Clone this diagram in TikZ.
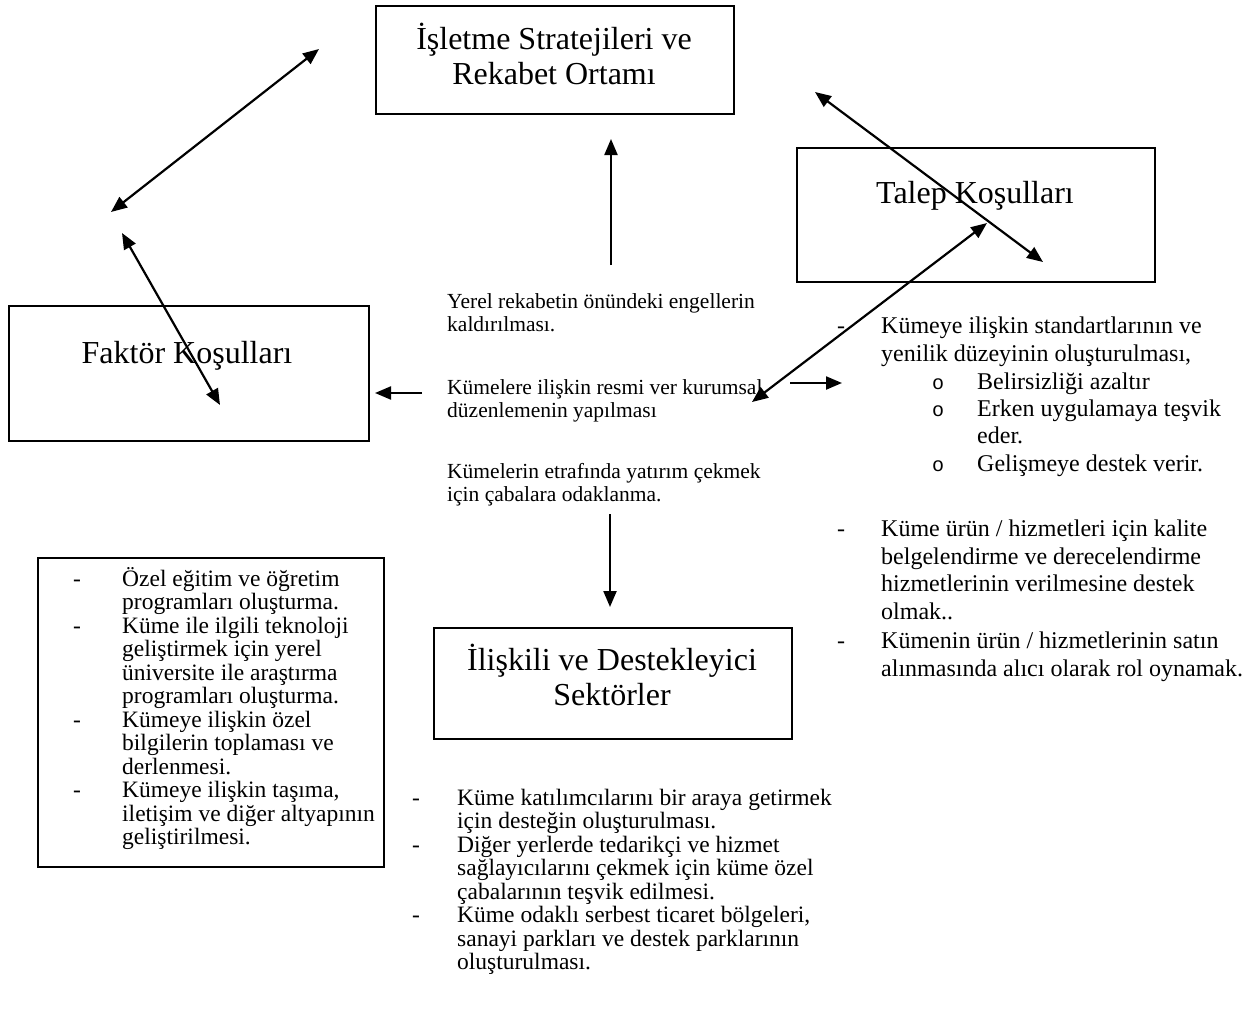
\documentclass[tikz,border=0pt]{standalone}
\usepackage{fontspec}
\setmainfont{Liberation Serif}
\newfontfamily\bulfont{Liberation Mono}
\usetikzlibrary{arrows.meta}
\begin{document}
\begin{tikzpicture}[x=1pt,y=-1pt,
  box/.style={draw, line width=1.5pt, inner sep=0pt, anchor=north west},
  title/.style={font=\fontsize{32}{35}\selectfont, inner sep=0pt, anchor=base},
  midtxt/.style={font=\fontsize{21.5}{23}\selectfont, inner sep=0pt, anchor=base west},
  rtxt/.style={font=\fontsize{24}{27}\selectfont, inner sep=0pt, anchor=base west},
  btxt/.style={font=\fontsize{23.5}{25}\selectfont, inner sep=0pt, anchor=base west},
  ltxt/.style={font=\fontsize{23.5}{25}\selectfont, inner sep=0pt, anchor=base west},
  obul/.style={font=\bulfont\fontsize{20}{22}\selectfont, inner sep=0pt, anchor=base west},
  arr/.style={line width=2.2pt, -{Triangle[length=16pt,width=13pt]}},
  darr/.style={line width=2.2pt, {Triangle[length=16pt,width=13pt]}-{Triangle[length=16pt,width=13pt]}},
]
\useasboundingbox (0,0) rectangle (1259,1010);

% ---- title boxes ----
\node[box, minimum width=358pt, minimum height=108pt] (bIS) at (375,5) {};
\node[title] (tIS1) at (554,49) {İşletme Stratejileri ve};
\node[title] (tIS2) at (554,84) {Rekabet Ortamı};

\node[box, minimum width=358pt, minimum height=134pt] (bTK) at (796,147) {};
\node[title] (tTK) at (975,203) {Talep Koşulları};

\node[box, minimum width=360pt, minimum height=135pt] (bFK) at (8,305) {};
\node[title] (tFK) at (187,363) {Faktör Koşulları};

\node[box, minimum width=358pt, minimum height=111pt] (bID) at (433,627) {};
\node[title] (tID1) at (612,670) {İlişkili ve Destekleyici};
\node[title] (tID2) at (612,705) {Sektörler};

% ---- middle text ----
\node[midtxt] (m1) at (447,308) {Yerel rekabetin önündeki engellerin};
\node[midtxt] (m2) at (447,331) {kaldırılması.};
\node[midtxt] (m3) at (447,394) {Kümelere ilişkin resmi ver kurumsal};
\node[midtxt] (m4) at (447,417) {düzenlemenin yapılması};
\node[midtxt] (m5) at (447,478) {Kümelerin etrafında yatırım çekmek};
\node[midtxt] (m6) at (447,501) {için çabalara odaklanma.};

% ---- right list ----
\node[rtxt] (rd1) at (837,333) {-};
\node[rtxt] (r1) at (881,333) {Kümeye ilişkin standartlarının ve};
\node[rtxt] (r2) at (881,361) {yenilik düzeyinin oluşturulması,};
\node[obul] (ro1) at (932,389) {o};
\node[rtxt] (r3) at (977,389) {Belirsizliği azaltır};
\node[obul] (ro2) at (932,416) {o};
\node[rtxt] (r4) at (977,416) {Erken uygulamaya teşvik};
\node[rtxt] (r5) at (977,443) {eder.};
\node[obul] (ro3) at (932,471) {o};
\node[rtxt] (r6) at (977,471) {Gelişmeye destek verir.};
\node[rtxt] (rd2) at (837,536) {-};
\node[rtxt] (r7) at (881,536) {Küme ürün / hizmetleri için kalite};
\node[rtxt] (r8) at (881,564) {belgelendirme ve derecelendirme};
\node[rtxt] (r9) at (881,591) {hizmetlerinin verilmesine destek};
\node[rtxt] (r10) at (881,619) {olmak..};
\node[rtxt] (rd3) at (837,648) {-};
\node[rtxt] (r11) at (881,648) {Kümenin ürün / hizmetlerinin satın};
\node[rtxt] (r12) at (881,676) {alınmasında alıcı olarak rol oynamak.};

% ---- left box list ----
\node[box, minimum width=346pt, minimum height=309pt] (bL) at (37,557) {};
\node[ltxt] (ld1) at (73,586) {-};
\node[ltxt] (l1) at (122,586) {Özel eğitim ve öğretim};
\node[ltxt] (l2) at (122,609.5) {programları oluşturma.};
\node[ltxt] (ld2) at (73,633) {-};
\node[ltxt] (l3) at (122,633) {Küme ile ilgili teknoloji};
\node[ltxt] (l4) at (122,656.5) {geliştirmek için yerel};
\node[ltxt] (l5) at (122,680) {üniversite ile araştırma};
\node[ltxt] (l6) at (122,703.5) {programları oluşturma.};
\node[ltxt] (ld3) at (73,727) {-};
\node[ltxt] (l7) at (122,727) {Kümeye ilişkin özel};
\node[ltxt] (l8) at (122,750.5) {bilgilerin toplaması ve};
\node[ltxt] (l9) at (122,774) {derlenmesi.};
\node[ltxt] (ld4) at (73,797.5) {-};
\node[ltxt] (l10) at (122,797.5) {Kümeye ilişkin taşıma,};
\node[ltxt] (l11) at (122,821) {iletişim ve diğer altyapının};
\node[ltxt] (l12) at (122,844.5) {geliştirilmesi.};

% ---- bottom list ----
\node[btxt] (bd1) at (412,805) {-};
\node[btxt] (bt1) at (457,805) {Küme katılımcılarını bir araya getirmek};
\node[btxt] (bt2) at (457,828.5) {için desteğin oluşturulması.};
\node[btxt] (bd2) at (412,852) {-};
\node[btxt] (bt3) at (457,852) {Diğer yerlerde tedarikçi ve hizmet};
\node[btxt] (bt4) at (457,875.5) {sağlayıcılarını çekmek için küme özel};
\node[btxt] (bt5) at (457,899) {çabalarının teşvik edilmesi.};
\node[btxt] (bd3) at (412,922.5) {-};
\node[btxt] (bt6) at (457,922.5) {Küme odaklı serbest ticaret bölgeleri,};
\node[btxt] (bt7) at (457,946) {sanayi parkları ve destek parklarının};
\node[btxt] (bt8) at (457,969.5) {oluşturulması.};

% ---- arrow end points ----
\coordinate (a1s) at (111,212);
\coordinate (a1e) at (319,49);
\coordinate (a2s) at (122,233);
\coordinate (a2e) at (220,405);
\coordinate (a3s) at (611,265);
\coordinate (a3e) at (611,139);
\coordinate (a4s) at (422,393);
\coordinate (a4e) at (375,393);
\coordinate (a5s) at (790,383);
\coordinate (a5e) at (842,383);
\coordinate (a6s) at (752,402);
\coordinate (a6e) at (987,223);
\coordinate (a7s) at (815,92);
\coordinate (a7e) at (1043,262);
\coordinate (a8s) at (610,514);
\coordinate (a8e) at (610,607);

\draw[darr] (a1s) -- (a1e);
\draw[darr] (a2s) -- (a2e);
\draw[arr] (a3s) -- (a3e);
\draw[arr] (a4s) -- (a4e);
\draw[arr] (a5s) -- (a5e);
\draw[darr] (a6s) -- (a6e);
\draw[darr] (a7s) -- (a7e);
\draw[arr] (a8s) -- (a8e);
\end{tikzpicture}
\end{document}
